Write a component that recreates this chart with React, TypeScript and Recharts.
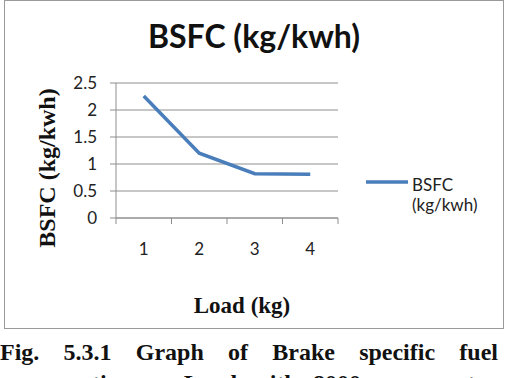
import { LineChart, Line, XAxis, YAxis, CartesianGrid } from 'recharts';

// load (kg) on the x axis, BSFC (kg/kwh) on the y axis
const loads = [1, 2, 3, 4];
const bsfc = [2.26, 1.2, 0.82, 0.81];
const yTicks = [0, 0.5, 1, 1.5, 2, 2.5];
// half values carry the Excel-style boundary tick marks, integers carry the labels
const xTicks = [0.5, 1, 1.5, 2, 2.5, 3, 3.5, 4, 4.5];
const captionLines = ['Fig.  5.3.1  Graph  of   Brake  specific  fuel', 'consumption vs Load with 8000 rpm motor'];

const data = loads.map((load, i) => ({ load, bsfc: bsfc[i] }));

const SANS = 'Lato, "Open Sans", sans-serif';
const SERIF = '"Liberation Serif", "Times New Roman", serif';
const GRID = '#8e8e8e';
const BLUE = '#4a7ebb';

function XTick(props: any) {
  const { x, y, payload } = props;
  const v = payload.value;
  if (Number.isInteger(v)) {
    return (
      <text x={x} y={y + 37} textAnchor="middle" fontFamily={SANS} fontSize={17} fill="#222">
        {v}
      </text>
    );
  }
  return <line x1={x} x2={x} y1={y} y2={y + 6} stroke={GRID} strokeWidth={1} />;
}

export default function App() {
  return (
    <div style={{ position: 'absolute', left: 0, top: 0, width: 507, height: 378, background: '#fff', overflow: 'hidden' }}>
      <div
        style={{
          position: 'absolute',
          left: 4,
          top: 0,
          width: 500,
          height: 329,
          boxSizing: 'border-box',
          border: '1px solid #9a9a9a',
        }}
      />
      <div style={{ position: 'absolute', left: 0, top: 0 }}>
        <LineChart width={507} height={378} data={data} margin={{ top: 83, right: 169, bottom: 120, left: 0 }}>
          <CartesianGrid vertical={false} stroke={GRID} strokeWidth={1} />
          <XAxis
            dataKey="load"
            type="number"
            domain={[0.5, 4.5]}
            ticks={xTicks}
            interval={0}
            height={40}
            tickSize={0}
            tickMargin={0}
            tickLine={false}
            axisLine={{ stroke: GRID }}
            tick={<XTick />}
          />
          <YAxis
            domain={[0, 2.5]}
            ticks={yTicks}
            width={116}
            tickSize={6}
            tickMargin={13}
            tickLine={{ stroke: GRID }}
            axisLine={{ stroke: GRID }}
            tick={{ fontFamily: SANS, fontSize: 17, fill: '#222' }}
          />
          <Line
            type="linear"
            dataKey="bsfc"
            name="BSFC (kg/kwh)"
            stroke={BLUE}
            strokeWidth={3.5}
            dot={false}
            isAnimationActive={false}
          />
        </LineChart>
      </div>
      <svg width={507} height={378} style={{ position: 'absolute', left: 0, top: 0, pointerEvents: 'none' }}>
        <text x={254} y={48} textAnchor="middle" fontFamily={SANS} fontWeight={700} fontSize={32} fill="#111">
          BSFC (kg/kwh)
        </text>
        <text
          transform="translate(55,168) rotate(-90)"
          textAnchor="middle"
          fontFamily={SERIF}
          fontWeight={700}
          fontSize={24}
          fill="#111"
        >
          BSFC (kg/kwh)
        </text>
        <text x={242} y={313} textAnchor="middle" fontFamily={SERIF} fontWeight={700} fontSize={23} fill="#111">
          Load (kg)
        </text>
        {/* legend */}
        <line x1={366} x2={408} y1={182} y2={182} stroke={BLUE} strokeWidth={3.5} />
        <text x={412} y={191} fontFamily={SANS} fontSize={17} fill="#222">BSFC</text>
        <text x={412} y={211} fontFamily={SANS} fontSize={17} fill="#222">(kg/kwh)</text>
      </svg>
      {captionLines.map((line, i) => (
        <div
          key={i}
          style={{
            position: 'absolute',
            left: 0,
            top: 340 + i * 31,
            width: 498,
            fontFamily: SERIF,
            fontWeight: 700,
            fontSize: 24,
            lineHeight: '24px',
            color: '#111',
            textAlign: 'justify',
            textAlignLast: 'justify',
            whiteSpace: 'nowrap',
          }}
        >
          {line}
        </div>
      ))}
    </div>
  );
}
